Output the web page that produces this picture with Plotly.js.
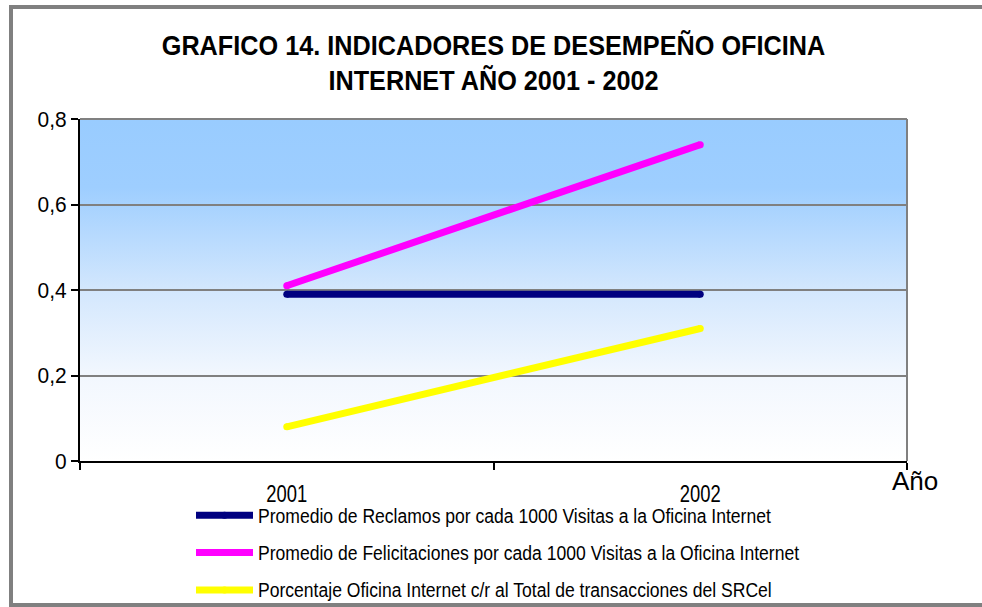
<!DOCTYPE html>
<html>
<head>
<meta charset="utf-8">
<script src="https://cdn.plot.ly/plotly-3.0.1.min.js"></script>
<style>html,body{margin:0;padding:0;background:#fff;}#chart{width:982px;height:607px;}</style>
</head>
<body>
<div id="chart"></div>
<script>
const years = ['2001', '2002'];
const reclamos = [0.39, 0.39];
const felicitaciones = [0.41, 0.74];
const porcentaje = [0.08, 0.31];
const seriesNames = [
  'Promedio de Reclamos por cada 1000 Visitas a la Oficina Internet',
  'Promedio de Felicitaciones por cada 1000 Visitas a la Oficina Internet',
  'Porcentaje Oficina Internet c/r al Total de transacciones del SRCel'
];
const seriesColors = ['#000080', '#FF00FF', '#FFFF00'];
const yTicks = [0, 0.2, 0.4, 0.6, 0.8];
const yTickText = ['0', '0,2', '0,4', '0,6', '0,8'];

const FONT = '"Liberation Sans", Arial, sans-serif';
const W = 982, H = 607;
const M = {l: 80, r: 75, t: 119, b: 146};
const pw = W - M.l - M.r, ph = H - M.t - M.b;
const px = v => (v - M.l) / pw;
const py = v => (H - M.b - v) / ph;

const vals = [reclamos, felicitaciones, porcentaje];
const traces = vals.map((y, i) => ({
  type: 'scatter',
  mode: 'lines+markers',
  x: years,
  y: y,
  name: seriesNames[i],
  legendgroup: 'g' + i,
  line: {color: seriesColors[i], width: 7},
  marker: {color: seriesColors[i], size: 7, line: {width: 0}},
  hoverinfo: 'x+y'
}));

const gradSvg = '<svg xmlns="http://www.w3.org/2000/svg" width="100" height="100" preserveAspectRatio="none">' +
  '<defs><linearGradient id="g" x1="0" y1="0" x2="0" y2="1">' +
  '<stop offset="0" stop-color="#99CCFF"/>' +
  '<stop offset="0.2" stop-color="#9ECEFF"/>' +
  '<stop offset="0.5" stop-color="#D3E7FD"/>' +
  '<stop offset="0.75" stop-color="#F2F7FE"/>' +
  '<stop offset="1" stop-color="#FFFFFF"/>' +
  '</linearGradient></defs><rect width="100" height="100" fill="url(#g)"/></svg>';

const layout = {
  width: W, height: H,
  margin: Object.assign({autoexpand: false}, M),
  paper_bgcolor: '#FFFFFF',
  plot_bgcolor: 'rgba(0,0,0,0)',
  separators: ',.',
  font: {family: FONT, color: '#000000', size: 20},
  title: {
    text: 'GRAFICO 14. INDICADORES DE DESEMPEÑO OFICINA<br>INTERNET AÑO 2001 - 2002',
    font: {family: FONT, size: 27, color: '#000000', weight: 'bold'},
    x: 0.5, xref: 'paper', xanchor: 'center',
    y: 1 - 55 / H, yanchor: 'middle', yref: 'container'
  },
  xaxis: {
    type: 'category',
    range: [-0.5, 1.5],
    tickson: 'boundaries',
    ticks: 'outside', ticklen: 7, tickwidth: 2, tickcolor: '#000000',
    showline: true, linecolor: '#000000', linewidth: 2,
    showgrid: false, zeroline: false,
    ticklabelstandoff: 11,
    tickfont: {family: FONT, size: 23, color: '#000000'},
    fixedrange: true
  },
  yaxis: {
    range: [0, 0.8],
    tickvals: yTicks, ticktext: yTickText,
    ticks: 'outside', ticklen: 7, tickwidth: 2, tickcolor: '#000000',
    showline: true, linecolor: '#000000', linewidth: 2,
    showgrid: true, gridcolor: '#808080', gridwidth: 2,
    zeroline: false,
    tickfont: {family: FONT, size: 22, color: '#000000'},
    fixedrange: true
  },
  images: [{
    source: 'data:image/svg+xml;charset=utf-8,' + encodeURIComponent(gradSvg),
    xref: 'paper', yref: 'paper', x: 0, y: 1, sizex: 1, sizey: 1,
    xanchor: 'left', yanchor: 'top', sizing: 'stretch', layer: 'below'
  }],
  shapes: [
    {type: 'line', xref: 'paper', yref: 'paper', x0: 0, x1: 1, y0: 1, y1: 1,
     line: {color: '#808080', width: 2}, layer: 'below'},
    {type: 'line', xref: 'paper', yref: 'paper', x0: 1, x1: 1, y0: 0, y1: 1,
     line: {color: '#808080', width: 2}, layer: 'below'},
    {type: 'rect', xref: 'paper', yref: 'paper',
     x0: px(11), x1: px(990), y0: py(605), y1: py(7),
     line: {color: '#808080', width: 4}, fillcolor: 'rgba(0,0,0,0)', layer: 'above'}
  ],
  annotations: [{
    text: 'Año', xref: 'paper', yref: 'paper',
    x: px(915), y: py(481), xanchor: 'center', yanchor: 'middle',
    showarrow: false, font: {family: FONT, size: 26, color: '#000000'}
  }],
  showlegend: true,
  legend: {
    orientation: 'v',
    xref: 'container', yref: 'container',
    x: 191 / W, xanchor: 'left',
    y: 1 - 496 / H, yanchor: 'top',
    bgcolor: 'rgba(0,0,0,0)',
    font: {family: FONT, size: 19.5, color: '#000000'},
    itemwidth: 57,
    tracegroupgap: 9,
    itemclick: false, itemdoubleclick: false
  },
  hovermode: 'closest'
};

function squeeze(selector, ratio) {
  document.querySelectorAll(selector).forEach(el => {
    const len = el.getComputedTextLength();
    if (len > 0) {
      el.setAttribute('textLength', (len * ratio).toFixed(2));
      el.setAttribute('lengthAdjust', 'spacingAndGlyphs');
    }
  });
}

Plotly.newPlot('chart', traces, layout, {displayModeBar: false}).then(() => {
  squeeze('.gtitle tspan.line', 0.935);
  squeeze('.legendtext', 0.90);
  squeeze('.xtick text', 0.80);
  squeeze('.ytick text', 0.95);
});
</script>
</body>
</html>
